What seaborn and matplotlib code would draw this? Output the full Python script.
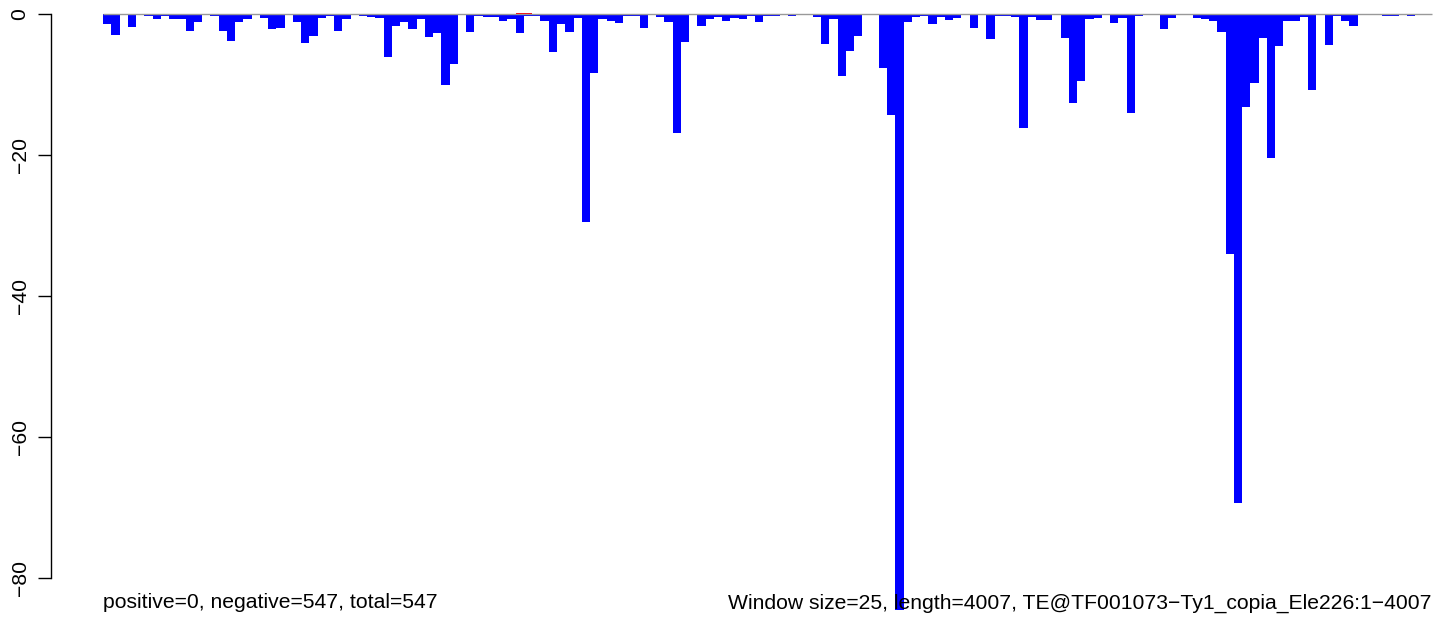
"""
Window coverage bar chart (negative strand only) for one TE element
"""
import numpy as np
import pandas as pd
import seaborn as sns
import matplotlib.pyplot as plt

sns.set_style('white')
plt.rcParams['font.family'] = ['Liberation Sans', 'DejaVu Sans']
plt.rcParams['text.color'] = 'black'
plt.rcParams['ytick.color'] = 'black'

window = 25
length = 4007

# coverage per 25bp window (161 windows)
neg_vals = [
    -1.37, -2.93, 0, -1.8, -0.2, -0.3, -0.66, -0.3, -0.66, -0.66,
    -2.36, -1.09, -0.14, -0.3, -2.36, -3.78, -1.09, -0.7, -0.15, -0.57,
    -2.13, -2.0, -0.14, -1.09, -4.07, -3.07, -0.52, -0.3, -2.36, -0.7,
    -0.2, -0.3, -0.43, -0.52, -6.05, -1.65, -1.09, -2.13, -0.7, -3.2,
    -2.65, -10.07, -7.05, 0, -2.5, -0.3, -0.43, -0.43, -0.95, -0.7,
    -2.65, -0.3, -0.3, -0.95, -5.39, -1.42, -2.51, -0.57, -29.5, -8.32,
    -0.71, -0.95, -1.23, -0.28, -0.28, -1.94, -0.14, -0.43, -1.09, -16.9,
    -3.92, -0.14, -1.65, -0.71, -0.43, -0.95, -0.57, -0.71, -0.28, -1.09,
    -0.28, -0.24, -0.1, -0.24, -0.14, -0.14, -0.38, -4.2, -0.71, -8.75,
    -5.2, -3.07, 0, 0, -7.6, -14.3, -84.6, -1.09, -0.38, -0.28,
    -1.42, -0.43, -0.8, -0.57, -0.14, -1.94, -0.14, -3.6, -0.28, -0.28,
    -0.38, -16.2, -0.43, -0.8, -0.8, -0.1, -3.4, -12.6, -9.5, -0.71,
    -0.57, -0.14, -1.23, -0.57, -14.0, -0.24, -0.14, -0.14, -2.13, -0.57,
    -0.14, -0.14, -0.57, -0.71, -0.95, -2.55, -34.0, -69.3, -13.2, -9.74,
    -3.36, -20.4, -4.49, -0.95, -0.95, -0.38, -10.8, 0, -4.4, -0.28,
    -0.95, -1.65, -0.05, 0, -0.14, -0.24, -0.24, 0, -0.28, 0,
    0,
]
# tiny red marks just above zero
pos_idx = [50, 51]
pos_vals = [0.15, 0.15]

yticks = [0, -20, -40, -60, -80]
left_label = 'positive=0, negative=547, total=547'
right_label = ('Window size=25, length=4007, '
               'TE@TF001073\u2212Ty1_copia_Ele226:1\u22124007')

n = len(neg_vals)
df = pd.DataFrame({'x': np.arange(n) * window + window / 2, 'cov': neg_vals})
pos_df = pd.DataFrame({'x': np.array(pos_idx) * window + window / 2, 'cov': pos_vals})

W, H = 1444, 632
fs = 15.2
fig = plt.figure(figsize=(W / 100, H / 100), dpi=100)
ax = fig.add_axes([51 / W, 0, 1 - 51 / W, 1])

sns.barplot(data=df, x='x', y='cov', native_scale=True, width=1, color='blue',
            saturation=1, errorbar=None, linewidth=0, ax=ax)
sns.barplot(data=pos_df, x='x', y='cov', native_scale=True, width=1, color='red',
            saturation=1, errorbar=None, linewidth=0, ax=ax)
ax.hlines(0, 0, n * window, color='#999999', lw=1, zorder=5)

# pixel anchors: data 0 -> px 103, end -> px 1432 ; y 0 -> px 14, -80 -> px 578
sx = (1432 - 103) / (n * window)
ax.set_xlim(-(103 - 51) / sx, n * window + (W - 1432) / sx)
sy = (578 - 14) / 80
ax.set_ylim(-(H - 14) / sy, 14 / sy)

ax.set_yticks(yticks)
ax.set_yticklabels([str(t).replace('-', '\u2212') for t in yticks],
                   rotation=90, va='center', fontsize=fs)
ax.tick_params(axis='y', direction='out', length=9.4, width=1, pad=6, left=True)
ax.set_xticks([])
ax.set_xlabel('')
ax.set_ylabel('')
for side in ['top', 'right', 'bottom']:
    ax.spines[side].set_visible(False)
ax.spines['left'].set_bounds(-80, 0)
ax.spines['left'].set_linewidth(1)
ax.spines['left'].set_color('black')

fig.text(103 / W, 1 - 603 / H, left_label, ha='left', va='center', fontsize=fs)
fig.text(1432 / W, 1 - 603 / H, right_label, ha='right', va='center', fontsize=fs)

fig.savefig('out.png', dpi=100)
